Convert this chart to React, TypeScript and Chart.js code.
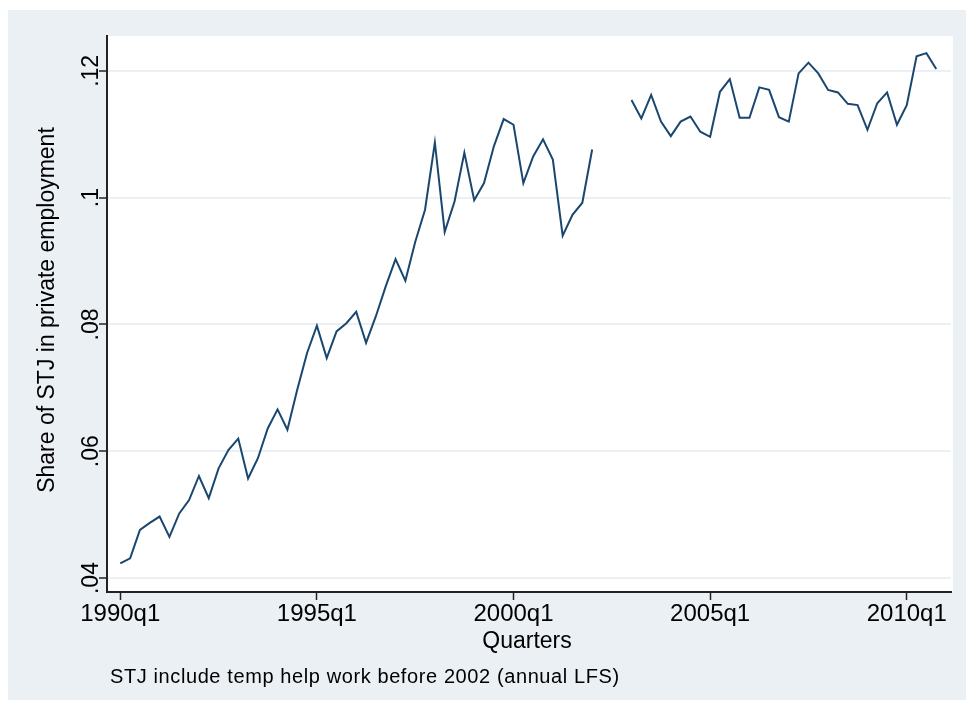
import React, { useEffect, useRef } from "react";
import { Chart, registerables } from "chart.js";

Chart.register(...registerables);

// ---- Data ----
const startYear = 1990;
const quarterLabels: string[] = [];
for (let y = startYear; y <= 2010; y++) {
  for (let q = 1; q <= 4; q++) quarterLabels.push(`${y}q${q}`);
}

// Share of STJ in private employment, 1990q1 .. 2010q4 (null = no observation)
const shareSTJ: (number | null)[] = [
  0.0423, 0.0431, 0.0476, 0.0487, // 1990
  0.0497, 0.0465, 0.0502, 0.0523, // 1991
  0.0561, 0.0526, 0.0573, 0.0602, // 1992
  0.0620, 0.0557, 0.0589, 0.0636, // 1993
  0.0666, 0.0634, 0.0697, 0.0755, // 1994
  0.0798, 0.0747, 0.0789, 0.0802, // 1995
  0.0820, 0.0771, 0.0813, 0.0860, // 1996
  0.0903, 0.0869, 0.0930, 0.0981, // 1997
  0.1087, 0.0946, 0.0994, 0.1071, // 1998
  0.0996, 0.1023, 0.1081, 0.1124, // 1999
  0.1115, 0.1023, 0.1065, 0.1092, // 2000
  0.1060, 0.0940, 0.0973, 0.0992, // 2001
  0.1076, null, null, null,       // 2002
  0.1154, 0.1125, 0.1162, 0.1120, // 2003
  0.1097, 0.1120, 0.1128, 0.1104, // 2004
  0.1096, 0.1167, 0.1187, 0.1126, // 2005
  0.1126, 0.1174, 0.1170, 0.1127, // 2006
  0.1120, 0.1196, 0.1213, 0.1196, // 2007
  0.1170, 0.1166, 0.1148, 0.1146, // 2008
  0.1107, 0.1149, 0.1166, 0.1115, // 2009
  0.1146, 0.1223, 0.1228, 0.1203, // 2010
];

const xTickIndex = [0, 20, 40, 60, 80];
const yTicks = [0.04, 0.06, 0.08, 0.1, 0.12];
const yTickLabels = [".04", ".06", ".08", ".1", ".12"];

const yTitle = "Share of STJ in private employment";
const xTitle = "Quarters";
const note = "STJ include temp help work before 2002 (annual LFS)";

// ---- Styles ----
const W = 966;
const H = 706;
const PANEL = "#EBF0F5";
const GRID = "#EBF0F5";
const LINE = "#1A476F";
const AXIS = "#222222";
const FONT = "'Liberation Sans', Arial, sans-serif";

const stataPlugin = {
  id: "stataDecor",
  beforeDraw(chart: any) {
    const ctx = chart.ctx;
    const a = chart.chartArea;
    ctx.save();
    ctx.fillStyle = "#ffffff";
    ctx.fillRect(0, 0, chart.width, chart.height);
    ctx.fillStyle = PANEL;
    ctx.fillRect(8, 10, W - 8, 690);
    ctx.fillStyle = "#ffffff";
    ctx.fillRect(a.left, a.top, a.right - a.left + 2, a.bottom - a.top);
    ctx.restore();
  },
  afterDraw(chart: any) {
    const ctx = chart.ctx;
    const a = chart.chartArea;
    const ys = chart.scales.y;
    ctx.save();
    ctx.fillStyle = "#000";
    // y tick labels (rotated)
    ctx.font = `23px ${FONT}`;
    ctx.textAlign = "center";
    ctx.textBaseline = "alphabetic";
    yTicks.forEach((v, i) => {
      const py = ys.getPixelForValue(v);
      ctx.save();
      ctx.translate(98, py);
      ctx.rotate(-Math.PI / 2);
      ctx.fillText(yTickLabels[i], 0, 0);
      ctx.restore();
    });
    // y title
    ctx.font = `23px ${FONT}`;
    ctx.save();
    ctx.translate(54, (a.top + a.bottom) / 2 - 4);
    ctx.rotate(-Math.PI / 2);
    ctx.fillText(yTitle, 0, 0);
    ctx.restore();
    // x title
    ctx.fillText(xTitle, (a.left + a.right) / 2 - 2, 648);
    // note
    ctx.font = `20px ${FONT}`;
    ctx.textAlign = "left";
    (ctx as any).letterSpacing = "0.6px";
    ctx.fillText(note, 110, 683);
    ctx.restore();
  },
};

export default function App() {
  const ref = useRef<HTMLCanvasElement | null>(null);

  useEffect(() => {
    if (!ref.current) return;
    const points = shareSTJ.map((v, i) => ({ x: i, y: v }));
    const chart = new Chart(ref.current, {
      type: "line",
      data: {
        datasets: [
          {
            data: points as any,
            borderColor: LINE,
            borderWidth: 2,
            pointRadius: 0,
            tension: 0,
            spanGaps: false,
            fill: false,
          },
        ],
      },
      options: {
        animation: false,
        responsive: false,
        maintainAspectRatio: false,
        devicePixelRatio: 1,
        layout: { padding: { left: 0, top: 36, right: W - 951, bottom: 0 } },
        plugins: {
          legend: { display: false },
          tooltip: { enabled: false },
        },
        scales: {
          x: {
            type: "linear",
            min: -1.35,
            max: 84.5,
            afterFit: (s: any) => {
              s.height = H - 592;
            },
            afterBuildTicks: (s: any) => {
              s.ticks = xTickIndex.map((v) => ({ value: v }));
            },
            grid: {
              drawOnChartArea: false,
              drawTicks: true,
              tickLength: 8,
              tickColor: AXIS,
              tickWidth: 1.5,
            },
            border: { display: true, color: AXIS, width: 2 },
            ticks: {
              padding: 0,
              color: "#000",
              font: { family: FONT, size: 24 },
              maxRotation: 0,
              callback: (v: any) => quarterLabels[Number(v)] ?? "",
            },
          },
          y: {
            type: "linear",
            min: 0.0378,
            max: 0.1255,
            afterFit: (s: any) => {
              s.width = 107;
            },
            afterBuildTicks: (s: any) => {
              s.ticks = yTicks.map((v) => ({ value: v }));
            },
            grid: {
              color: GRID,
              lineWidth: 2,
              drawTicks: true,
              tickLength: 8,
              tickColor: AXIS,
              tickWidth: 1.5,
            },
            border: { display: true, color: AXIS, width: 2 },
            ticks: { display: false },
          },
        },
      },
      plugins: [stataPlugin],
    });
    return () => chart.destroy();
  }, []);

  return (
    <div style={{ position: "absolute", left: 0, top: 0, width: W, height: H, background: "#fff" }}>
      <canvas ref={ref} width={W} height={H} style={{ display: "block", width: W, height: H }} />
    </div>
  );
}
